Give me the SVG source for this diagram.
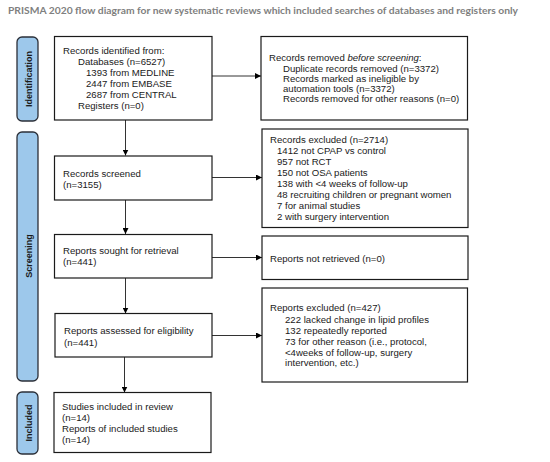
<svg xmlns="http://www.w3.org/2000/svg" width="550" height="462" viewBox="0 0 550 462">
<defs>
<style>
.bg{fill:#ffffff}
.box{fill:#ffffff;stroke:#1a1a1a;stroke-width:1.2}
.bar{fill:#9DC8EB;stroke:#2b2f38;stroke-width:1.3}
.t{font-family:"Liberation Sans",Arial,sans-serif;font-size:9.6px;fill:#1a1a1a}
.lab{font-family:"Liberation Sans",Arial,sans-serif;font-size:9px;font-weight:bold;fill:#1a1a1a}
.title{font-family:Lato,"Liberation Sans",sans-serif;font-size:9.8px;font-weight:bold;fill:#808080}
.c{stroke:#333333;stroke-width:1;fill:none}
</style>
<marker id="ah" viewBox="0 0 10 10" refX="10" refY="5" markerWidth="6" markerHeight="6" markerUnits="userSpaceOnUse" orient="auto">
<path d="M0,0 L10,5 L0,10 z" fill="#000000"/>
</marker>
</defs>
<rect class="bg" x="0" y="0" width="550" height="462"/>
<text class="title" x="8" y="14" textLength="510" lengthAdjust="spacingAndGlyphs">PRISMA 2020 flow diagram for new systematic reviews which included searches of databases and registers only</text>

<g id="bar-identification">
<rect class="bar" x="17" y="37" width="21" height="84" rx="5"/>
<text class="lab" transform="translate(31.5,79) rotate(-90)" text-anchor="middle">Identification</text>
</g>
<g id="bar-screening">
<rect class="bar" x="17" y="132" width="21" height="249" rx="5"/>
<text class="lab" transform="translate(31.5,256) rotate(-90)" text-anchor="middle">Screening</text>
</g>
<g id="bar-included">
<rect class="bar" x="17" y="392" width="21" height="62" rx="5"/>
<text class="lab" transform="translate(31.5,423) rotate(-90)" text-anchor="middle">Included</text>
</g>

<g id="connectors">
<line class="c" x1="212" y1="76" x2="261" y2="76" marker-end="url(#ah)"/>
<line class="c" x1="125.5" y1="120" x2="125.5" y2="155.5" marker-end="url(#ah)"/>
<line class="c" x1="212" y1="177.5" x2="262" y2="177.5" marker-end="url(#ah)"/>
<line class="c" x1="125.5" y1="200" x2="125.5" y2="234" marker-end="url(#ah)"/>
<line class="c" x1="212" y1="257.5" x2="262" y2="257.5" marker-end="url(#ah)"/>
<line class="c" x1="125.5" y1="278" x2="125.5" y2="313.5" marker-end="url(#ah)"/>
<line class="c" x1="212" y1="335.5" x2="262" y2="335.5" marker-end="url(#ah)"/>
<line class="c" x1="124.5" y1="357" x2="124.5" y2="392.5" marker-end="url(#ah)"/>
</g>

<g id="records-identified">
<rect class="box" x="54.5" y="36.5" width="157.5" height="83.5"/>
<text class="t" x="63" y="54">Records identified from:</text>
<text class="t" x="78" y="65">Databases (n=6527)</text>
<text class="t" x="86" y="76">1393 from MEDLINE</text>
<text class="t" x="86" y="87">2447 from EMBASE</text>
<text class="t" x="86" y="98">2687 from CENTRAL</text>
<text class="t" x="78" y="109">Registers (n=0)</text>
</g>

<g id="records-removed">
<rect class="box" x="261" y="36.5" width="206.5" height="83.5"/>
<text class="t" x="269" y="61">Records removed <tspan font-style="italic">before screening</tspan>:</text>
<text class="t" x="283" y="71.5">Duplicate records removed (n=3372)</text>
<text class="t" x="283" y="81.5">Records marked as ineligible by</text>
<text class="t" x="283" y="91.5">automation tools (n=3372)</text>
<text class="t" x="283" y="102">Records removed for other reasons (n=0)</text>
</g>

<g id="records-screened">
<rect class="box" x="54.5" y="156" width="157.5" height="44"/>
<text class="t" x="63" y="177">Records screened</text>
<text class="t" x="63" y="188">(n=3155)</text>
</g>

<g id="records-excluded">
<rect class="box" x="262" y="129" width="206" height="98.5"/>
<text class="t" x="270" y="142.5">Records excluded (n=2714)</text>
<text class="t" x="277" y="153.5">1412 not CPAP vs control</text>
<text class="t" x="277" y="164.5">957 not RCT</text>
<text class="t" x="277" y="175.5">150 not OSA patients</text>
<text class="t" x="277" y="186.5">138 with &lt;4 weeks of follow-up</text>
<text class="t" x="277" y="197.5">48 recruiting children or pregnant women</text>
<text class="t" x="277" y="208.5">7 for animal studies</text>
<text class="t" x="277" y="219.5">2 with surgery intervention</text>
</g>

<g id="reports-sought">
<rect class="box" x="54.5" y="234.5" width="157.5" height="43.5"/>
<text class="t" x="63" y="254">Reports sought for retrieval</text>
<text class="t" x="63" y="265">(n=441)</text>
</g>

<g id="reports-not-retrieved">
<rect class="box" x="262" y="236" width="206" height="43.5"/>
<text class="t" x="270" y="261.5">Reports not retrieved (n=0)</text>
</g>

<g id="reports-assessed">
<rect class="box" x="55" y="313.5" width="157" height="43.5"/>
<text class="t" x="64" y="334">Reports assessed for eligibility</text>
<text class="t" x="64" y="345.5">(n=441)</text>
</g>

<g id="reports-excluded">
<rect class="box" x="262" y="288" width="205.5" height="94"/>
<text class="t" x="270" y="311">Reports excluded (n=427)</text>
<text class="t" x="285" y="322.5">222 lacked change in lipid profiles</text>
<text class="t" x="285" y="333.5">132 repeatedly reported</text>
<text class="t" x="285" y="344.5">73 for other reason (i.e., protocol,</text>
<text class="t" x="285" y="355.5">&lt;4weeks of follow-up, surgery</text>
<text class="t" x="285" y="366">intervention, etc.)</text>
</g>

<g id="studies-included">
<rect class="box" x="54" y="392.5" width="157" height="60"/>
<text class="t" x="62" y="410">Studies included in review</text>
<text class="t" x="62" y="420.5">(n=14)</text>
<text class="t" x="62" y="431.5">Reports of included studies</text>
<text class="t" x="62" y="443">(n=14)</text>
</g>
</svg>
